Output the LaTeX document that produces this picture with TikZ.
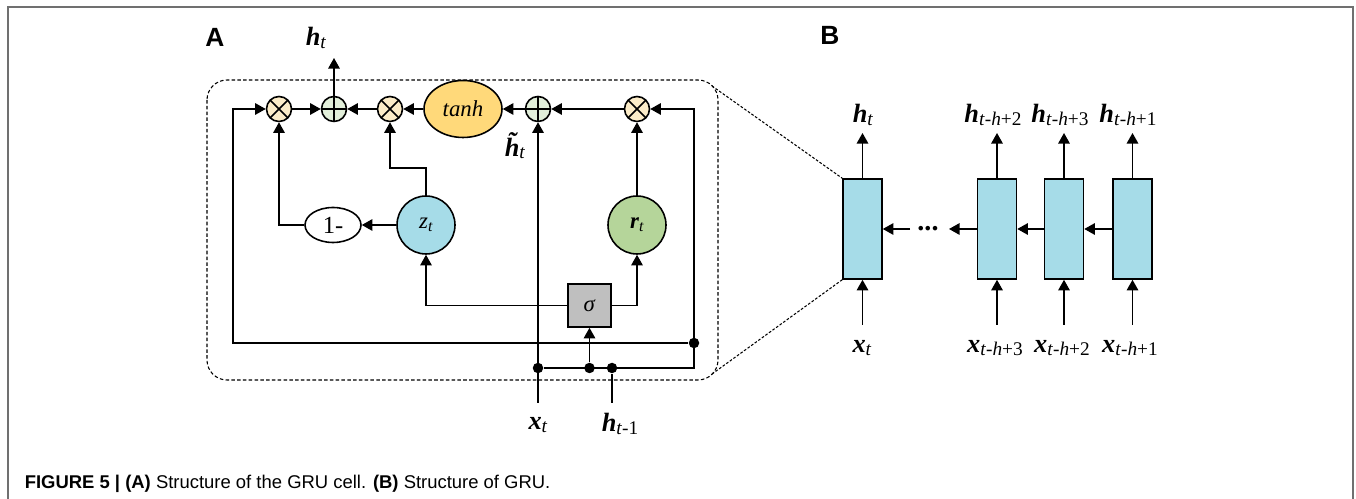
\documentclass[tikz,border=0pt]{standalone}
\usepackage{fontspec}
\setmainfont{Liberation Serif}
\newfontfamily\panelfont{Liberation Sans}
\usetikzlibrary{arrows.meta,positioning,calc,shapes.geometric}
\definecolor{multfill}{RGB}{252,236,200}
\definecolor{addfill}{RGB}{226,239,218}
\definecolor{tanhfill}{RGB}{255,217,122}
\definecolor{zfill}{RGB}{166,220,232}
\definecolor{rfill}{RGB}{181,213,154}
\definecolor{sigfill}{RGB}{191,191,191}
\definecolor{framegray}{RGB}{112,112,112}
\tikzstyle{op}=[draw,circle,minimum size=0.5cm,inner sep=0pt]
\tikzstyle{mult}=[op,fill=multfill,path picture={\draw (path picture bounding box.north west)--(path picture bounding box.south east) (path picture bounding box.north east)--(path picture bounding box.south west);}]
\tikzstyle{add}=[op,fill=addfill,path picture={\draw (path picture bounding box.north)--(path picture bounding box.south) (path picture bounding box.west)--(path picture bounding box.east);}]
\tikzstyle{gate}=[draw,circle,minimum size=1.16cm,inner sep=0pt]
\tikzstyle{cell}=[draw,fill=zfill,minimum width=0.78cm,minimum height=2cm,inner sep=0pt]
\tikzstyle{dot}=[circle,fill,inner sep=0pt,minimum size=0.21cm]
\tikzstyle{panel}=[font=\fontsize{15}{17}\selectfont\panelfont\bfseries]
\newcommand{\vlab}[2]{{\fontsize{15}{17}\selectfont\bfseries\itshape #1}\raisebox{-0.3ex}{\fontsize{11}{13}\selectfont #2}}
\newcommand{\sub}[1]{\textit{t}-\textit{h}+#1}

\begin{document}
\begin{tikzpicture}[x=0.02cm,y=-0.02cm,line width=0.9pt,>={Triangle[length=6pt,width=6.5pt]}]
\useasboundingbox (0,0) rectangle (1356,499);
\draw[framegray,line width=1pt] (8,499) -- (8,7) -- (1353,7) -- (1353,499);

% (A) GRU cell
\node[panel] (labA) at (215,37) {A};
\draw[dash pattern=on 2pt off 1.3pt,line width=0.6pt,rounded corners=0.4cm] (207,80) rectangle (718,380);
\coordinate (boxtr) at (712,86);
\coordinate (boxbr) at (712,374);

\node[mult] (m1) at (279,109) {};
\node[add] (a1) at (334,109) {};
\node[mult] (m2) at (390,109) {};
\node[draw,ellipse,fill=tanhfill,minimum width=1.56cm,minimum height=1.14cm,inner sep=0pt,font=\fontsize{13}{15}\selectfont] (tanh) at (463,109) {\textit{tanh}};
\node[add] (a2) at (538,109) {};
\node[mult] (m3) at (637,109) {};
\node[draw,ellipse,minimum width=1.12cm,minimum height=0.7cm,inner sep=0pt,font=\fontsize{14}{16}\selectfont] (one) at (333,225) {1-};
\node[gate,fill=zfill,font=\fontsize{13}{15}\selectfont] (z) at (426,225) {\textit{z}\raisebox{-0.3ex}{\fontsize{9}{10}\selectfont\textit{t}}};
\node[gate,fill=rfill,font=\fontsize{13}{15}\selectfont] (r) at (637,225) {\textbf{\textit{r}}\raisebox{-0.3ex}{\fontsize{9}{10}\selectfont\textit{t}}};
\node[draw,fill=sigfill,minimum size=0.86cm,inner sep=0pt,font=\fontsize{13}{15}\selectfont] (sig) at (589.5,305.5) {\textit{σ}};

\coordinate (htop) at (334,58);
\coordinate (zbend) at (390,168);
\coordinate (ltop) at (233,109);
\coordinate (lbot) at (233,343);
\coordinate (rtop) at (694,109);
\coordinate (rbot) at (694,368);
\coordinate (xin) at (538,403);
\coordinate (hin) at (612,403);
\node[dot] (d1) at (538,368) {};
\node[dot] (d2) at (589.5,368) {};
\node[dot] (d3) at (612,368) {};
\node[dot] (d4) at (694,343) {};

\draw[->] (m1) -- (a1);
\draw[->] (m2) -- (a1);
\draw[->] (tanh) -- (m2);
\draw[->] (a2) -- (tanh);
\draw[->] (m3) -- (a2);
\draw[->] (a1) -- (htop);
\draw[->] (z) -- (one);
\draw[->] (one) -| (m1);
\draw[->] (z) |- (zbend) -- (m2);
\draw[->] (r) -- (m3);
\draw[->] (sig) -| (z);
\draw[->] (sig) -| (r);
\draw[->] (d2) -- (sig);
\draw[->] (xin) -- (a2);
\draw (hin) -- (d3);
\draw[->] (d1) -- (rbot) -- (rtop) -- (m3);
\draw[->] (d4) -- (lbot) -- (ltop) -- (m1);

\node (htlab) at (316,38) {\vlab{h}{\textit{t}}};
\node (htil) at (515,146) {\vlab{\~{h}}{\textit{t}}};
\node (xtlab) at (538,425) {\vlab{x}{\textit{t}}};
\node (hprev) at (620,424) {\vlab{h}{\textit{t}-1}};

% (B) unrolled GRU
\node[panel] (labB) at (830,35) {B};
\foreach \n/\x in {1/862.5,2/997,3/1064,4/1132.5}{
  \node[cell] (c\n) at (\x,229) {};
  \coordinate (o\n) at (\x,133);
  \coordinate (i\n) at (\x,325);
  \draw[->] (c\n) -- (o\n);
  \draw[->] (i\n) -- (c\n);
}
\node[anchor=base] (dots) at (928,231) {\fontsize{16}{18}\selectfont\textbf{...}};
\coordinate (dotsR) at (949,229);
\coordinate (dotsL) at (910,229);
\draw[->] (c4) -- (c3);
\draw[->] (c3) -- (c2);
\draw[->] (c2) -- (dotsR);
\draw[->] (dotsL) -- (c1);
\draw[dash pattern=on 1.5pt off 1pt,line width=0.6pt] (boxtr) -- (c1.north west);
\draw[dash pattern=on 1.5pt off 1pt,line width=0.6pt] (boxbr) -- (c1.south west);

\node (y1) at (863,115) {\vlab{h}{\textit{t}}};
\node (y2) at (993,115) {\vlab{h}{\sub{2}}};
\node (y3) at (1060,115) {\vlab{h}{\sub{3}}};
\node (y4) at (1128,115) {\vlab{h}{\sub{1}}};
\node (x1) at (862,348) {\vlab{x}{\textit{t}}};
\node (x2) at (995,348) {\vlab{x}{\sub{3}}};
\node (x3) at (1062,348) {\vlab{x}{\sub{2}}};
\node (x4) at (1130,348) {\vlab{x}{\sub{1}}};

\node[anchor=base west,inner sep=0pt,font=\fontsize{10.5}{12}\selectfont\panelfont] (cap) at (24,489) {\textbf{FIGURE 5 | (A)} Structure of the GRU cell. \textbf{(B)} Structure of GRU.};
\end{tikzpicture}
\end{document}
